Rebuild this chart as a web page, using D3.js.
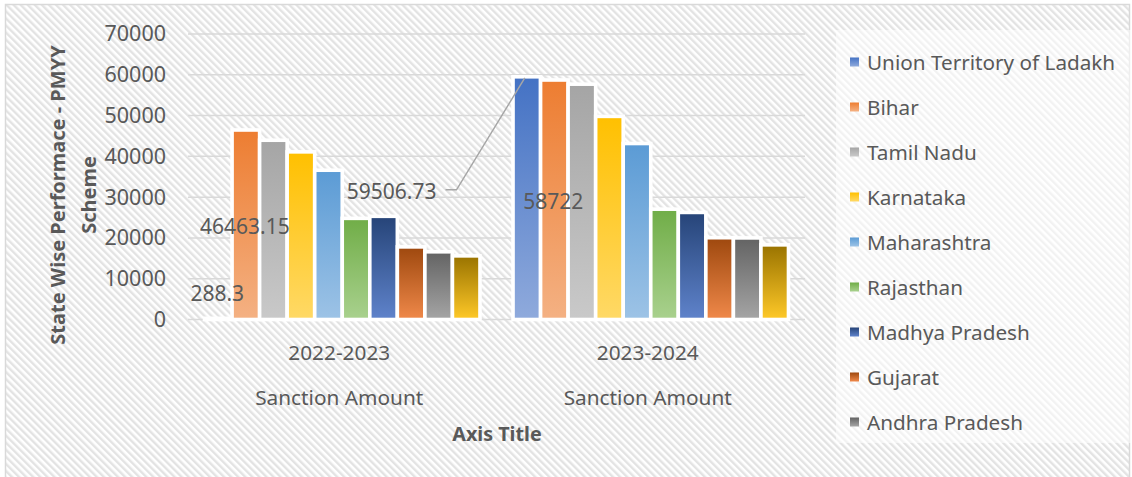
<!DOCTYPE html>
<html>
<head>
<meta charset="utf-8">
<script src="https://cdn.jsdelivr.net/npm/d3@7"></script>
<style>
  body { margin: 0; background: #fff; }
  svg text { font-family: "Noto Sans", "Open Sans", sans-serif; fill: #595959; }
</style>
</head>
<body>
<div id="chart"></div>
<script>
  var years = ["2022-2023", "2023-2024"];
  var subLabel = "Sanction Amount";
  var seriesNames = ["Union Territory of Ladakh", "Bihar", "Tamil Nadu", "Karnataka",
    "Maharashtra", "Rajasthan", "Madhya Pradesh", "Gujarat", "Andhra Pradesh", "Other States"];
  var values2022 = [288.3, 46463.15, 43950, 41100, 36600, 24800, 25300, 17800, 16600, 15600];
  var values2023 = [59506.73, 58722, 57700, 49800, 43150, 27050, 26250, 20050, 20000, 18300];
  var yTicks = [0, 10000, 20000, 30000, 40000, 50000, 60000, 70000];
  // gradient colours: top, bottom
  var topColors = ["#4472C4", "#ED7D31", "#A5A5A5", "#FFC000", "#5B9BD5", "#70AD47", "#264478", "#9E480E", "#636363", "#997300"];
  var bottomColors = ["#8FAADC", "#F4B183", "#C9C9C9", "#FFD966", "#9DC3E6", "#A9D18E", "#5F83CB", "#F0894A", "#A5A5A5", "#FFC928"];
  var dataLabels = [
    { year: "2022-2023", series: 0, mode: "above" },
    { year: "2022-2023", series: 1, mode: "center" },
    { year: "2023-2024", series: 0, mode: "callout" },
    { year: "2023-2024", series: 1, mode: "center" }
  ];

  var width = 1132, height = 477;
  var valuesByYear = { "2022-2023": values2022, "2023-2024": values2023 };

  var svg = d3.select("#chart").append("svg")
    .attr("width", width)
    .attr("height", height);

  var defs = svg.append("defs");

  var hatch = defs.append("pattern")
    .attr("id", "hatch")
    .attr("patternUnits", "userSpaceOnUse")
    .attr("width", 5)
    .attr("height", 5)
    .attr("patternTransform", "rotate(-45)");
  hatch.append("rect").attr("width", 5).attr("height", 5).attr("fill", "#ffffff");
  hatch.append("rect").attr("width", 2.4).attr("height", 5).attr("fill", "#e3e3e3");

  seriesNames.forEach(function(name, i) {
    var g = defs.append("linearGradient")
      .attr("id", "grad" + i)
      .attr("x1", 0).attr("y1", 0).attr("x2", 0).attr("y2", 1);
    g.append("stop").attr("offset", "0%").attr("stop-color", topColors[i]);
    g.append("stop").attr("offset", "100%").attr("stop-color", bottomColors[i]);
  });

  // chart area background + border
  svg.append("rect")
    .attr("x", 5.5).attr("y", 4.5)
    .attr("width", 1124).attr("height", 490)
    .attr("fill", "url(#hatch)")
    .attr("stroke", "#d9d9d9")
    .attr("stroke-width", 1.5);

  var plotLeft = 188, plotRight = 805;
  var y = d3.scaleLinear().domain([0, 70000]).range([319.5, 34]);
  var x0 = d3.scaleBand().domain(years).range([plotLeft, plotRight]);
  var x1 = d3.scaleBand().domain(d3.range(seriesNames.length))
    .range([0, x0.bandwidth()])
    .paddingOuter(0.6);

  // gridlines
  svg.append("g").selectAll("line")
    .data(yTicks)
    .join("line")
    .attr("x1", plotLeft).attr("x2", plotRight)
    .attr("y1", function(d) { return y(d); })
    .attr("y2", function(d) { return y(d); })
    .attr("stroke", "#d9d9d9")
    .attr("stroke-width", 1.5);

  // y axis labels
  var yAxis = d3.axisLeft(y).tickValues(yTicks).tickSize(0).tickPadding(0).tickFormat(d3.format("d"));
  var yg = svg.append("g").attr("transform", "translate(166,0)").call(yAxis);
  yg.select(".domain").remove();
  yg.selectAll("text")
    .style("font-family", "'Noto Sans', sans-serif")
    .attr("font-size", 21.5)
    .attr("fill", "#595959");

  // bars
  var groups = svg.append("g").selectAll("g")
    .data(years)
    .join("g")
    .attr("transform", function(d) { return "translate(" + x0(d) + ",0)"; });

  groups.selectAll("rect")
    .data(function(yr) { return valuesByYear[yr].map(function(v, i) { return { i: i, v: v }; }); })
    .join("rect")
    .attr("x", function(d) { return x1(d.i); })
    .attr("y", function(d) { return y(d.v); })
    .attr("width", x1.bandwidth())
    .attr("height", function(d) { return y(0) - y(d.v); })
    .attr("fill", function(d) { return "url(#grad" + d.i + ")"; })
    .attr("stroke", "#ffffff")
    .attr("stroke-width", 3.6);

  // data labels
  dataLabels.forEach(function(lab) {
    var v = valuesByYear[lab.year][lab.series];
    var cx = x0(lab.year) + x1(lab.series) + x1.bandwidth() / 2;
    var txt = String(v);
    if (lab.mode === "above") {
      svg.append("text").attr("x", cx - 1).attr("y", y(v) - 25)
        .attr("text-anchor", "middle").attr("dominant-baseline", "central")
        .attr("font-size", 21).text(txt);
    } else if (lab.mode === "center") {
      svg.append("text").attr("x", cx - 1).attr("y", (y(v) + y(0)) / 2 + 1)
        .attr("text-anchor", "middle").attr("dominant-baseline", "central")
        .attr("font-size", 21).text(txt);
    } else {
      var lx = x0(lab.year) - 60, ly = y(v) + 113;
      svg.append("text").attr("x", lx).attr("y", ly + 1)
        .attr("text-anchor", "end").attr("dominant-baseline", "central")
        .attr("font-size", 21).text(txt);
      svg.append("polyline")
        .attr("points", [[lx + 9, ly], [lx + 20, ly], [cx - 2, y(v) + 1]].join(" "))
        .attr("fill", "none")
        .attr("stroke", "#a6a6a6")
        .attr("stroke-width", 1.5);
    }
  });

  // x axis labels
  var xl = svg.append("g").selectAll("g")
    .data(years)
    .join("g")
    .attr("transform", function(d) { return "translate(" + (x0(d) + x0.bandwidth() / 2 - 3) + ",0)"; });
  xl.append("text").attr("y", 352).attr("text-anchor", "middle").attr("dominant-baseline", "central")
    .attr("font-size", 20.8).text(function(d) { return d; });
  xl.append("text").attr("y", 397).attr("text-anchor", "middle").attr("dominant-baseline", "central")
    .attr("font-size", 20.8).text(subLabel);

  svg.append("text")
    .attr("x", 497).attr("y", 433)
    .attr("text-anchor", "middle").attr("dominant-baseline", "central")
    .attr("font-size", 19.7).attr("font-weight", "bold")
    .text("Axis Title");

  // y axis title (two lines)
  var yt = svg.append("text")
    .attr("transform", "translate(72,195) rotate(-90)")
    .attr("text-anchor", "middle")
    .attr("font-size", 20).attr("font-weight", "bold");
  yt.append("tspan").attr("x", 0).attr("y", -15).attr("dominant-baseline", "central").text("State Wise Performace - PMYY");
  yt.append("tspan").attr("x", 0).attr("y", 16).attr("dominant-baseline", "central").text("Scheme");

  // legend (only the entries that fit in the box are shown)
  var legTop = 30, legHeight = 413, legStep = 45;
  var legendShown = seriesNames.filter(function(d, i) { return 32 + (i + 1) * legStep < legTop + legHeight; });
  var leg = svg.append("g");
  leg.append("rect").attr("x", 836).attr("y", legTop).attr("width", 296).attr("height", legHeight)
    .attr("fill", "#ffffff").attr("fill-opacity", 0.55);
  var items = leg.selectAll("g.item")
    .data(legendShown)
    .join("g")
    .attr("class", "item")
    .attr("transform", function(d, i) { return "translate(850," + (62 + i * legStep) + ")"; });
  items.append("rect").attr("x", 0).attr("y", -4.5).attr("width", 9).attr("height", 9)
    .attr("fill", function(d, i) { return "url(#grad" + i + ")"; });
  items.append("text").attr("x", 17).attr("y", 0).attr("dominant-baseline", "central")
    .attr("font-size", 20.7).text(function(d) { return d; });
</script>
</body>
</html>
